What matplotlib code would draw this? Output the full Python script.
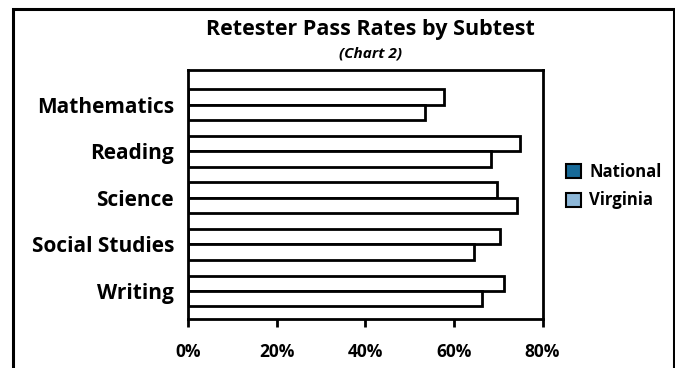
import matplotlib
matplotlib.use("Agg")
import matplotlib.pyplot as plt
import numpy as np
from matplotlib.patches import Patch, Rectangle

categories = ["Mathematics", "Reading", "Science", "Social Studies", "Writing"]
national = [57.7, 75.0, 69.8, 70.5, 71.2]
virginia = [53.4, 68.4, 74.3, 64.6, 66.3]
xticks = [0, 20, 40, 60, 80]
xticklabels = ["0%", "20%", "40%", "60%", "80%"]

FONT = ["Open Sans", "DejaVu Sans"]
plt.rcParams['font.family'] = FONT

W, H = 675, 368
fig = plt.figure(figsize=(W / 100, H / 100), dpi=100)

# outer frame
fig.patches.append(Rectangle((12.5 / W, -0.05), (673.5 - 12.5) / W, (H - 9) / H + 0.05,
                             transform=fig.transFigure, fill=False,
                             edgecolor="black", linewidth=2.2))

ax = fig.add_axes([188 / W, (H - 319) / H, (542.5 - 188) / W, (319 - 70) / H])

y = np.arange(len(categories))
h = 0.33
ax.barh(y - h / 2, national, height=h, color="white", edgecolor="black", linewidth=2)
ax.barh(y + h / 2, virginia, height=h, color="white", edgecolor="black", linewidth=2)

ax.set_xlim(0, 80)
ax.set_ylim(4.6, -0.74)
ax.set_xticks(xticks)
ax.set_xticklabels(xticklabels, fontsize=12.5, fontweight="bold")
ax.set_yticks(y)
ax.set_yticklabels(categories, fontsize=15, fontweight="bold")
ax.tick_params(axis="y", length=0, pad=10)
ax.tick_params(axis="x", length=6, width=2, direction="out", pad=11)
for s in ax.spines.values():
    s.set_linewidth(2)

fig.text((206 + 535) / 2 / W, 1 - 30 / H, "Retester Pass Rates by Subtest",
         ha="center", va="center", fontsize=15.5, fontweight="bold")
fig.text((206 + 535) / 2 / W, 1 - 53 / H, "(Chart 2)",
         ha="center", va="center", fontsize=11, fontweight="bold", style="italic")

handles = [Patch(facecolor="#176a98", edgecolor="black", linewidth=1.5, label="National"),
           Patch(facecolor="#8db7d8", edgecolor="black", linewidth=1.5, label="Virginia")]
fig.legend(handles=handles, loc="center left", bbox_to_anchor=(551 / W, 1 - 186 / H),
           frameon=False, prop={"family": FONT, "weight": "bold", "size": 12},
           handlelength=0.9, handleheight=0.9, handletextpad=0.5, labelspacing=0.65)

fig.savefig("out.png", dpi=100)
